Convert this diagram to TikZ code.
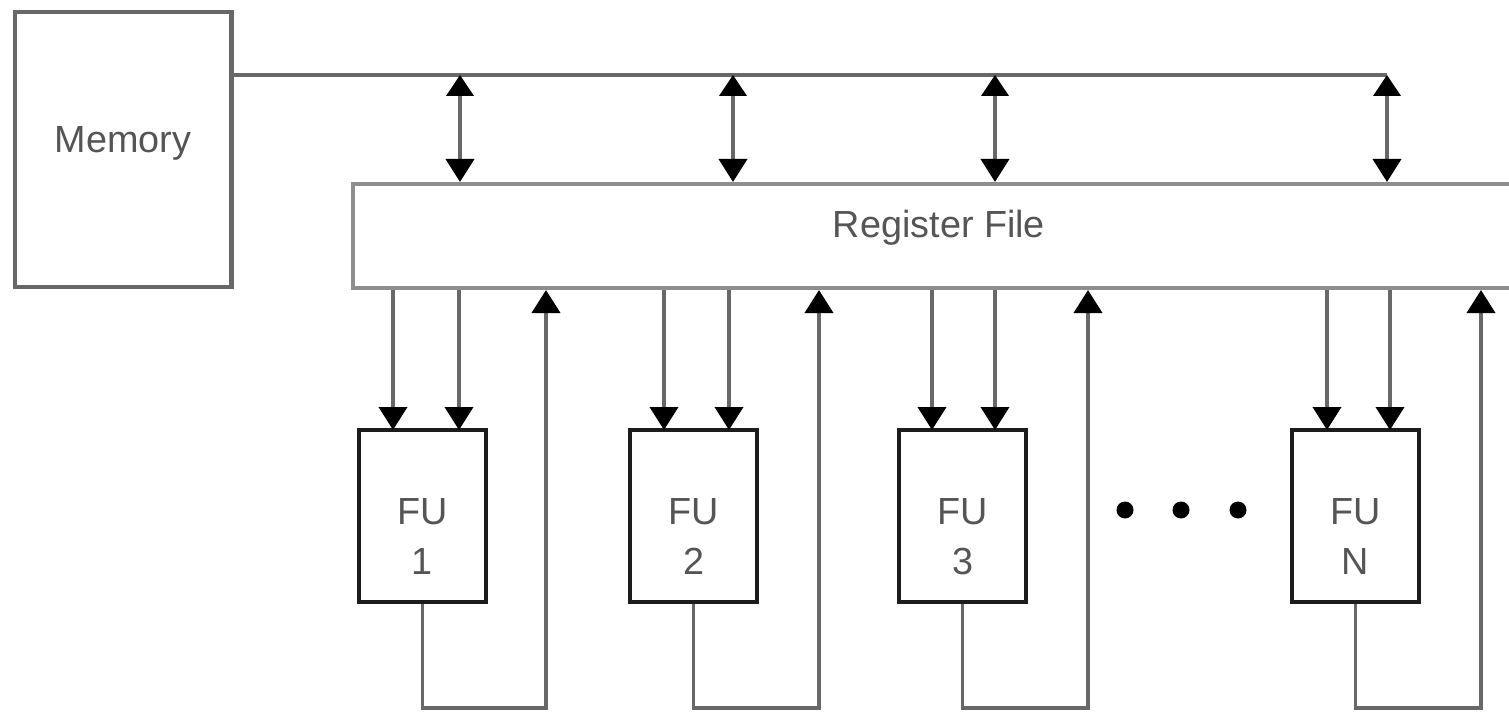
\documentclass[tikz,border=0pt]{standalone}
\usepackage{fontspec}
\setmainfont{Liberation Sans}
\usepackage{tikz}
\usetikzlibrary{arrows.meta,positioning,calc}
\definecolor{linegray}{HTML}{686868}
\definecolor{regfilegray}{HTML}{8E8E8E}
\definecolor{fublack}{HTML}{1C1C1C}
\definecolor{labelgray}{HTML}{555555}

\begin{document}
\begin{tikzpicture}[
  x=0.02cm,y=-0.02cm,
  font=\fontsize{21.5}{28.5}\selectfont,
  mem/.style={draw=linegray,line width=2.3pt,minimum width=4.34cm,minimum height=5.5cm,text=labelgray,inner sep=0pt,text height=0.64cm,text depth=0.5cm},
  regfile/.style={draw=regfilegray,line width=2.3pt,minimum width=23.44cm,minimum height=2.08cm,text=labelgray,inner sep=0pt,text height=0.58cm,text depth=0.5cm},
  unit/.style={draw=fublack,line width=2.6pt,minimum width=2.54cm,minimum height=3.44cm,align=center,text=labelgray,inner sep=0pt,text height=2.5cm,text depth=0.14cm},
  dotmark/.style={circle,fill=black,minimum size=0.34cm,inner sep=0pt},
  wire/.style={draw=linegray,line width=2.2pt},
  arr/.style={-{Triangle[length=4.6mm,width=5.6mm,color=black]},draw=linegray,line width=2.2pt},
  dbl/.style={{Triangle[length=4.2mm,width=5.4mm,color=black]}-{Triangle[length=4.6mm,width=5.6mm,color=black]},draw=linegray,line width=2.2pt}
]
\useasboundingbox (0,0) rectangle (1509,713);

\node[mem] (memory) at (123,149.5) {Memory};
\node[regfile] (rf) at (939,236) {Register File};

\node[unit] (fu1) at (422.5,516) {FU\\1};
\node[unit] (fu2) at (693.5,516) {FU\\2};
\node[unit] (fu3) at (962.5,516) {FU\\3};
\node[unit] (fun) at (1355.5,516) {FU\\N};

\node[dotmark] (dota) at (1125,510) {};
\node[dotmark] (dotb) at (1181,510) {};
\node[dotmark] (dotc) at (1238,510) {};

% memory bus
\coordinate (bus1) at (460,75);
\coordinate (bus2) at (733,75);
\coordinate (bus3) at (995,75);
\coordinate (bus4) at (1387,75);
\draw[wire] (memory.east |- bus4) -- (bus4);
\draw[dbl] (bus1) -- (rf.north -| bus1);
\draw[dbl] (bus2) -- (rf.north -| bus2);
\draw[dbl] (bus3) -- (rf.north -| bus3);
\draw[dbl] (bus4) -- (rf.north -| bus4);

% operands
\coordinate (in1a) at (393,430);
\coordinate (in1b) at (459,430);
\coordinate (in2a) at (664,430);
\coordinate (in2b) at (729,430);
\coordinate (in3a) at (932,430);
\coordinate (in3b) at (995,430);
\coordinate (inna) at (1327,430);
\coordinate (innb) at (1390,430);
\draw[arr] (rf.south -| in1a) -- (in1a);
\draw[arr] (rf.south -| in1b) -- (in1b);
\draw[arr] (rf.south -| in2a) -- (in2a);
\draw[arr] (rf.south -| in2b) -- (in2b);
\draw[arr] (rf.south -| in3a) -- (in3a);
\draw[arr] (rf.south -| in3b) -- (in3b);
\draw[arr] (rf.south -| inna) -- (inna);
\draw[arr] (rf.south -| innb) -- (innb);

% results
\coordinate (ret1) at (546,708);
\coordinate (ret2) at (819,708);
\coordinate (ret3) at (1088,708);
\coordinate (retn) at (1481,708);
\draw[arr] (fu1.south) |- (ret1) -- (rf.south -| ret1);
\draw[arr] (fu2.south) |- (ret2) -- (rf.south -| ret2);
\draw[arr] (fu3.south) |- (ret3) -- (rf.south -| ret3);
\draw[arr] (fun.south) |- (retn) -- (rf.south -| retn);
\end{tikzpicture}
\end{document}
